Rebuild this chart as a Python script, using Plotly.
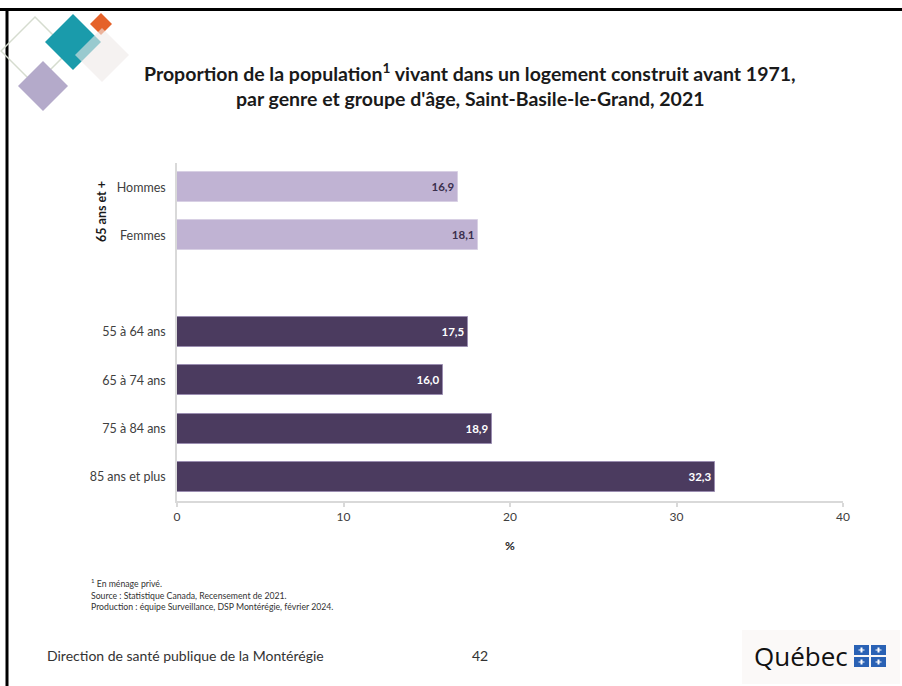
import plotly.graph_objects as go

# ---- data ----
labels_65 = ["Hommes", "Femmes"]
values_65 = [16.9, 18.1]
labels_age = ["55 à 64 ans", "65 à 74 ans", "75 à 84 ans", "85 ans et plus"]
values_age = [17.5, 16.0, 18.9, 32.3]
x_ticks = [0, 10, 20, 30, 40]

W, H = 902, 686
L, R, T, B = 177, 843, 163, 501
FONT = "Lato"


def fmt(v):
    return f"{v:.1f}".replace(".", ",")


def px(x, y):
    return (x - L) / (R - L), (B - y) / (B - T)


pos_65 = list(range(len(labels_65)))
pos_age = [len(labels_65) + 1 + i for i in range(len(labels_age))]
n_slots = len(labels_65) + 1 + len(labels_age)

fig = go.Figure()
fig.add_trace(go.Bar(
    x=values_65, y=pos_65, orientation="h", width=0.62,
    marker=dict(color="#C0B3D3", line=dict(color="#D8D0E4", width=1)),
    text=[fmt(v) for v in values_65], textposition="inside",
    insidetextanchor="end",
    textfont=dict(family=FONT, size=11.5, color="#3B2F4D", weight="bold"),
    hoverinfo="skip",
))
fig.add_trace(go.Bar(
    x=values_age, y=pos_age, orientation="h", width=0.62,
    marker=dict(color="#4B3B5F", line=dict(color="#9A8DB0", width=1)),
    text=[fmt(v) for v in values_age], textposition="inside",
    insidetextanchor="end",
    textfont=dict(family=FONT, size=11.5, color="white", weight="bold"),
    hoverinfo="skip",
))

shapes = []
annotations = []

# frame lines (slide border)
shapes.append(dict(type="line", xref="paper", yref="paper",
                   x0=px(0, 9.5)[0], y0=px(0, 9.5)[1], x1=px(W, 9.5)[0], y1=px(W, 9.5)[1],
                   line=dict(color="black", width=3)))
shapes.append(dict(type="line", xref="paper", yref="paper",
                   x0=px(7, 8)[0], y0=px(7, 8)[1], x1=px(7, H)[0], y1=px(7, H)[1],
                   line=dict(color="black", width=3)))


def diamond(cx, cy, h, fill, line=None, opacity=1.0):
    pts = [(cx, cy - h), (cx + h, cy), (cx, cy + h), (cx - h, cy)]
    pp = [px(a, b) for a, b in pts]
    path = "M " + " L ".join(f"{a},{b}" for a, b in pp) + " Z"
    d = dict(type="path", xref="paper", yref="paper", path=path,
             fillcolor=fill, opacity=opacity,
             line=dict(color=line if line else "rgba(0,0,0,0)", width=1.5 if line else 0))
    shapes.append(d)


# logo
diamond(35, 51, 34, "rgba(0,0,0,0)", line="#D5DCCF")
diamond(43, 86, 25, "#B4AACA")
diamond(73, 42, 28, "#1A9BAB")
diamond(101, 24, 11, "#E5622A")
diamond(102, 55, 27, "#EEEAE8", opacity=0.6)

# Québec logo
x0b, y0b = px(742, 630)
x1b, y1b = px(900, 684)
shapes.append(dict(type="rect", xref="paper", yref="paper", x0=x0b, y0=y0b, x1=x1b, y1=y1b,
                   fillcolor="#FBF9F8", line=dict(width=0), layer="below"))
for (qx, qy) in [(854, 645), (871, 645), (854, 657), (871, 657)]:
    a0, b0 = px(qx, qy)
    a1, b1 = px(qx + 15, qy + 10)
    shapes.append(dict(type="rect", xref="paper", yref="paper", x0=a0, y0=b0, x1=a1, y1=b1,
                       fillcolor="#2A62B5", line=dict(width=0)))
    c0, d0 = px(qx + 6.5, qy + 2.5)
    c1, d1 = px(qx + 8.5, qy + 7.5)
    shapes.append(dict(type="rect", xref="paper", yref="paper", x0=c0, y0=d0, x1=c1, y1=d1,
                       fillcolor="white", line=dict(width=0)))
    c0, d0 = px(qx + 4.5, qy + 4.5)
    c1, d1 = px(qx + 10.5, qy + 5.5)
    shapes.append(dict(type="rect", xref="paper", yref="paper", x0=c0, y0=d0, x1=c1, y1=d1,
                       fillcolor="white", line=dict(width=0)))


def text(x, y, s, size, color="#262626", bold=False, xanchor="left", yanchor="middle",
         family=FONT, angle=0, align="left"):
    a, b = px(x, y)
    annotations.append(dict(x=a, y=b, xref="paper", yref="paper", text=s, showarrow=False,
                            xanchor=xanchor, yanchor=yanchor, textangle=angle, align=align,
                            font=dict(family=family, size=size, color=color,
                                      weight="bold" if bold else "normal")))


# title
text(470, 72, "Proportion de la population<sup>1</sup> vivant dans un logement construit avant 1971,",
     19.5, color="#1a1a1a", bold=True, xanchor="center")
text(470, 98, "par genre et groupe d'âge, Saint-Basile-le-Grand, 2021",
     19.5, color="#1a1a1a", bold=True, xanchor="center")

# group label
text(101, 212, "65 ans et +", 12.5, color="#1a1a1a", bold=True, xanchor="center", angle=-90)

# footnotes
text(89, 583, "<sup>1</sup> En ménage privé.", 8.7, color="#333333")
text(89, 595, "Source : Statistique Canada, Recensement de 2021.", 8.7, color="#333333")
text(89, 606, "Production : équipe Surveillance, DSP Montérégie, février 2024.", 8.7, color="#333333")

# footer
text(45, 655, "Direction de santé publique de la Montérégie", 14, color="#333333")
text(480, 655, "42", 14, color="#333333", xanchor="center")
text(801, 656, "Québec", 26, color="#111111", xanchor="center", family="Open Sans")

fig.update_layout(
    width=W, height=H,
    margin=dict(l=L, r=W - R, t=T, b=H - B, pad=0),
    paper_bgcolor="white", plot_bgcolor="white",
    showlegend=False, bargap=0,
    shapes=shapes, annotations=annotations,
    font=dict(family=FONT, color="#404040"),
    xaxis=dict(range=[0, 40], tickvals=x_ticks, ticktext=[str(t) for t in x_ticks],
               showgrid=False, zeroline=False, showline=True, linecolor="#D9D9D9", linewidth=1.5,
               ticks="outside", ticklen=4, tickcolor="#D9D9D9", tickwidth=1.5,
               tickfont=dict(size=12, color="#404040"),
               title=dict(text="<b>%</b>", font=dict(size=12, color="#262626"), standoff=18)),
    yaxis=dict(range=[n_slots - 0.5, -0.5], tickvals=pos_65 + pos_age, ticktext=labels_65 + labels_age,
               showgrid=False, zeroline=False, showline=True, linecolor="#D9D9D9", linewidth=1.5,
               ticks="", ticklabelstandoff=7,
               tickfont=dict(size=12.5, color="#404040")),
)

fig.write_html("out.html", config={"displayModeBar": False},
               post_script="document.body.style.margin='0';document.body.style.overflow='hidden';")
